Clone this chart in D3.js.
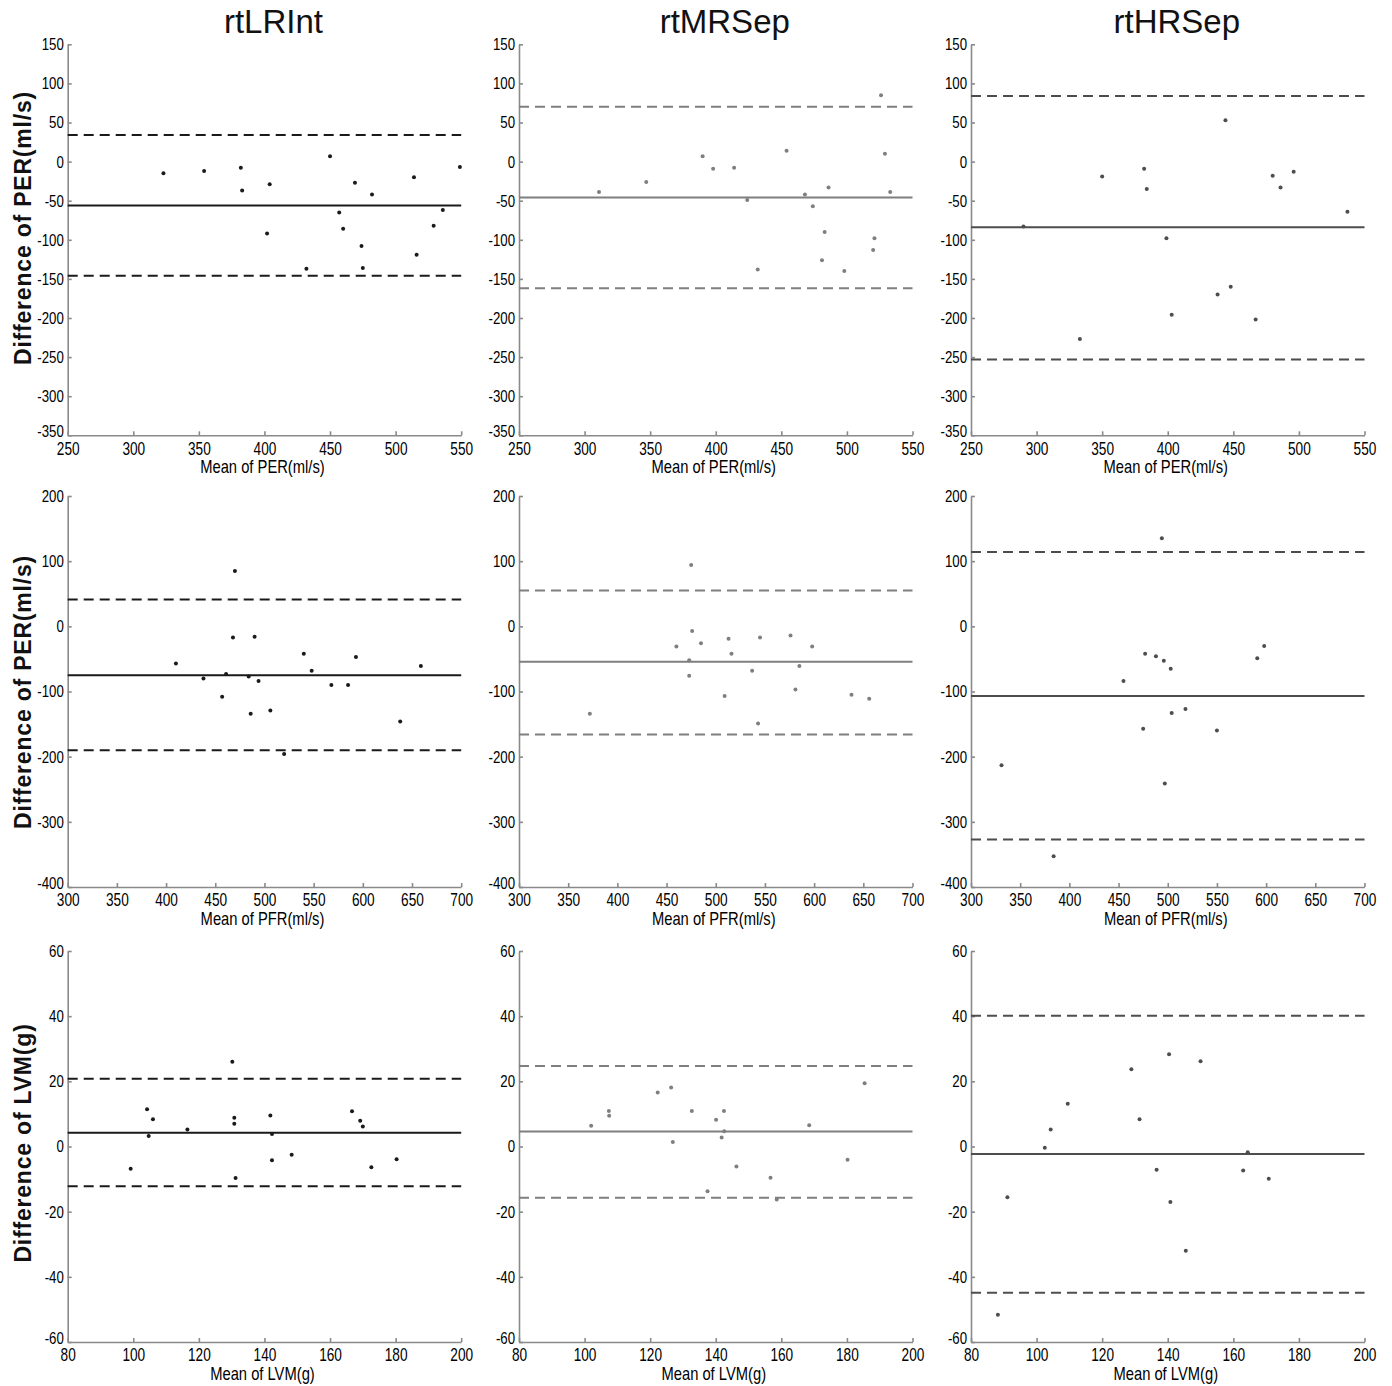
<!DOCTYPE html>
<html>
<head>
<meta charset="utf-8">
<script src="https://cdn.jsdelivr.net/npm/d3@7"></script>
<style>
  body { margin: 0; background: #fff; }
  svg { display: block; }
</style>
</head>
<body>
<script>
// column titles and axis labels
var methods = ['rtLRInt', 'rtMRSep', 'rtHRSep']
var yLabels = ['Difference of PER(ml/s)', 'Difference of PER(ml/s)', 'Difference of LVM(g)']
var xLabels = ['Mean of PER(ml/s)', 'Mean of PFR(ml/s)', 'Mean of LVM(g)']

// axis ranges and tick values per row
var xDomains = [[250, 550], [300, 700], [80, 200]]
var yDomains = [[-350, 150], [-400, 200], [-60, 60]]
var xTickVals = [[250, 300, 350, 400, 450, 500, 550],
                 [300, 350, 400, 450, 500, 550, 600, 650, 700],
                 [80, 100, 120, 140, 160, 180, 200]]
var yTickVals = [[-350, -300, -250, -200, -150, -100, -50, 0, 50, 100, 150],
                 [-400, -300, -200, -100, 0, 100, 200],
                 [-60, -40, -20, 0, 20, 40, 60]]

// bias and limits of agreement [lower, mean, upper], row by row
var limits = [
  [[-146, -56, 34], [-162, -46, 70], [-253, -84, 84]],
  [[-190, -75, 41], [-166, -54.5, 55], [-327, -107, 114]],
  [[-12.2, 4.2, 20.8], [-15.7, 4.6, 24.7], [-44.9, -2.3, 40.1]]
]

// scatter points: means (x) and differences (y)
var perLR_x = [323, 354, 382, 383, 404, 402, 432, 450, 457, 460, 469, 474, 475, 482, 514, 516, 529, 536, 549]
var perLR_y = [-15, -12, -8, -37, -29, -92, -137, 7, -65, -86, -27, -108, -136, -42, -20, -119, -82, -62, -7]
var perMR_x = [311, 347, 390, 398, 414, 424, 432, 454, 468, 474, 483, 481, 486, 498, 520, 521, 526, 529, 533]
var perMR_y = [-39, -26, 7, -9, -8, -49, -138, 14, -42, -57, -90, -126, -33, -140, -113, -98, 85, 10, -39]
var perHR_x = [290, 333, 350, 382, 384, 399, 403, 438, 444, 448, 467, 480, 486, 496, 537]
var perHR_y = [-83, -227, -19, -9, -35, -98, -196, -170, 53, -160, -202, -18, -33, -13, -64]

var pfrLR_x = [410, 438, 457, 461, 468, 470, 484, 486, 490, 494, 506, 520, 540, 548, 568, 585, 593, 638, 659]
var pfrLR_y = [-57, -80, -108, -73, -17, 85, -77, -134, -16, -84, -129, -196, -42, -68, -90, -90, -47, -146, -61]
var pfrMR_x = [372, 460, 473, 473, 475, 476, 485, 509, 513, 516, 537, 543, 545, 576, 581, 585, 598, 638, 656]
var pfrMR_y = [-134, -31, -52, -76, 94, -7, -26, -107, -19, -42, -68, -149, -17, -14, -97, -61, -31, -105, -111]
var pfrHR_x = [331, 384, 455, 475, 477, 488, 494, 496, 497, 503, 504, 518, 550, 591, 598]
var pfrHR_y = [-213, -353, -84, -157, -42, -46, 135, -53, -241, -65, -133, -127, -160, -49, -30]

var lvmLR_x = [99.2, 104.2, 104.7, 106, 116.5, 130.2, 130.8, 130.8, 131.2, 141.8, 142.3, 142.3, 148.3, 166.7, 169.2, 170, 172.6, 180.3]
var lvmLR_y = [-6.8, 11.4, 3.2, 8.4, 5.2, 26, 8.8, 7, -9.7, 9.5, 3.8, -4.2, -2.5, 10.8, 7.9, 6.1, -6.4, -3.9]
var lvmMR_x = [102, 107.4, 107.5, 122.3, 126.4, 126.9, 132.7, 137.5, 140.1, 141.8, 142.5, 142.6, 146.3, 156.7, 158.6, 168.5, 180.2, 185.4]
var lvmMR_y = [6.4, 10.9, 9.4, 16.6, 18.1, 1.4, 10.9, -13.7, 8.2, 2.8, 10.9, 4.7, -6.1, -9.6, -16.3, 6.5, -4.1, 19.4]
var lvmHR_x = [88.2, 91.1, 102.5, 104.3, 109.5, 128.9, 131.4, 136.6, 140.4, 140.8, 145.5, 150, 163, 164.4, 170.8]
var lvmHR_y = [-51.6, -15.6, -0.4, 5.2, 13.1, 23.7, 8.4, -7.1, 28.3, -17, -32, 26.2, -7.4, -1.8, -9.9]

var points = [
  [[perLR_x, perLR_y], [perMR_x, perMR_y], [perHR_x, perHR_y]],
  [[pfrLR_x, pfrLR_y], [pfrMR_x, pfrMR_y], [pfrHR_x, pfrHR_y]],
  [[lvmLR_x, lvmLR_y], [lvmMR_x, lvmMR_y], [lvmHR_x, lvmHR_y]]
]

// layout
var W = 1392, H = 1386
var colLeft = [67.7, 519, 971]
var plotW = 393.5
var rowTop = [44.3, 496, 951]
var plotH = 391
var colColor = ['#1a1a1a', '#7f7f7f', '#4d4d4d']
var axisColor = '#8a8a8a'
var sans = '"Liberation Sans", Arial, sans-serif'
var squeeze = 'scale(0.82,1)'     // narrow look of the original label font
var tickSqueeze = 'scale(0.78,1)'

var svg = d3.select('body')
  .append('svg')
  .attr('width', W)
  .attr('height', H)

// column titles
svg.selectAll('text.title')
  .data(methods)
  .enter()
  .append('text')
  .attr('class', 'title')
  .attr('x', function(d, i){ return colLeft[i] + plotW / 2 + 9 })
  .attr('y', 33)
  .attr('text-anchor', 'middle')
  .attr('font-family', sans)
  .attr('font-size', '33px')
  .attr('fill', '#111')
  .text(function(d){ return d })

var yLabelCenters = [228, 692, 1143]

for (var r = 0; r < 3; r++) {
  // row y label
  svg.append('text')
    .attr('transform', 'translate(31,' + yLabelCenters[r] + ') rotate(-90)')
    .attr('text-anchor', 'middle')
    .attr('font-family', sans)
    .attr('font-weight', 'bold')
    .attr('font-size', '23px')
    .attr('letter-spacing', '0.8px')
    .attr('fill', '#111')
    .text(yLabels[r])

  for (var c = 0; c < 3; c++) {
    var g = svg.append('g')
      .attr('transform', 'translate(' + colLeft[c] + ',' + rowTop[r] + ')')

    var x = d3.scaleLinear().domain(xDomains[r]).range([0, plotW])
    var y = d3.scaleLinear().domain(yDomains[r]).range([plotH, 0])

    // axes, ticks pointing inward
    var xAxis = g.append('g')
      .attr('transform', 'translate(0,' + plotH + ')')
      .call(d3.axisBottom(x).tickValues(xTickVals[r]).tickSize(-4).tickSizeOuter(0)
        .tickFormat(function(d){ return String(d) }))
    xAxis.selectAll('text')
      .attr('y', 7)
      .attr('dy', '0.71em')
      .attr('transform', tickSqueeze)
      .attr('font-family', sans)
      .attr('font-size', '17.5px')
      .attr('fill', '#000')

    var yAxis = g.append('g')
      .call(d3.axisLeft(y).tickValues(yTickVals[r]).tickSize(-4).tickSizeOuter(0)
        .tickFormat(function(d){ return String(d) }))
    yAxis.selectAll('text')
      .attr('x', -5)
      .attr('y', function(d, i){ return i === 0 ? -4 : 0 }) // lowest label sits a bit above the corner
      .attr('transform', tickSqueeze)
      .attr('font-family', sans)
      .attr('font-size', '17px')
      .attr('fill', '#000')

    g.selectAll('.domain, .tick line')
      .attr('stroke', axisColor)
      .attr('stroke-width', 1.6)

    // limits of agreement and bias lines
    var lim = limits[r][c]
    g.selectAll('line.lim')
      .data(lim)
      .enter()
      .append('line')
      .attr('class', 'lim')
      .attr('x1', 0)
      .attr('x2', plotW)
      .attr('y1', function(d){ return y(d) })
      .attr('y2', function(d){ return y(d) })
      .attr('stroke', colColor[c])
      .attr('stroke-width', 2)
      .attr('stroke-dasharray', function(d, i){ return i === 1 ? null : '10,6' })

    // scatter points
    var px = points[r][c][0], py = points[r][c][1]
    g.selectAll('circle')
      .data(px)
      .enter()
      .append('circle')
      .attr('cx', function(d){ return x(d) })
      .attr('cy', function(d, i){ return y(py[i]) })
      .attr('r', 2)
      .attr('fill', colColor[c])

    // x axis label (squeezed around its own centre)
    g.append('text')
      .attr('transform', 'translate(' + (plotW / 2 - 2) + ',' + (plotH + 38) + ') ' + squeeze)
      .attr('text-anchor', 'middle')
      .attr('font-family', sans)
      .attr('font-size', '18px')
      .attr('fill', '#000')
      .text(xLabels[r])
  }
}
</script>
</body>
</html>
